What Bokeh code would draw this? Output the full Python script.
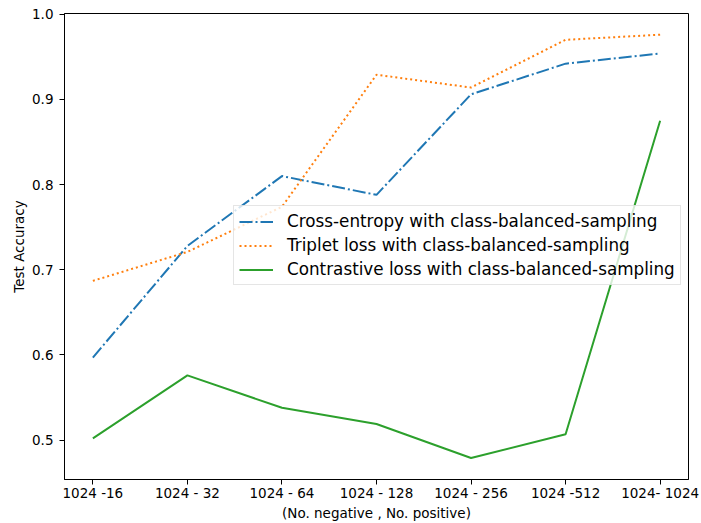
from bokeh.plotting import figure
from bokeh.models import Legend, LegendItem, FixedTicker, Range1d, PrintfTickFormatter
from bokeh.embed import file_html
from bokeh.resources import INLINE

# (No. negative, No. positive) sample pairs
pairs = ["1024 -16", "1024 - 32", "1024 - 64", "1024 - 128",
         "1024 - 256", "1024 -512", "1024- 1024"]

# Test accuracy per training setting
cross_entropy = [0.597, 0.728, 0.810, 0.788, 0.906, 0.942, 0.954]
triplet = [0.687, 0.721, 0.774, 0.929, 0.914, 0.970, 0.976]
contrastive = [0.502, 0.576, 0.538, 0.519, 0.479, 0.507, 0.875]

y_ticks = [0.5, 0.6, 0.7, 0.8, 0.9, 1.0]

x = list(range(len(pairs)))
FONT = "DejaVu Sans"

p = figure(width=701, height=523, output_backend="svg", toolbar_location=None,
           x_range=Range1d(-0.3, 6.3), y_range=Range1d(0.4538, 1.0009),
           min_border_left=64, min_border_right=13, min_border_top=13,
           min_border_bottom=44)
p.background_fill_color = "white"
p.border_fill_color = "white"
p.outline_line_color = "black"
p.outline_line_width = 1
p.xgrid.visible = False
p.ygrid.visible = False

r_ce = p.line(x, cross_entropy, color="#1f77b4", line_width=2, line_dash="13 3 2 3")
r_tr = p.line(x, triplet, color="#ff7f0e", line_width=2, line_dash="2 3")
r_co = p.line(x, contrastive, color="#2ca02c", line_width=2)

for ax in (p.xaxis[0], p.yaxis[0]):
    ax.axis_line_color = "black"
    ax.major_tick_line_color = "black"
    ax.major_tick_out = 5
    ax.major_tick_in = 0
    ax.minor_tick_line_color = None
    ax.major_label_text_font = FONT
    ax.major_label_text_font_size = "13.5px"
    ax.major_label_text_color = "black"
    ax.axis_label_text_font = FONT
    ax.axis_label_text_font_size = "13.5px"
    ax.axis_label_text_font_style = "normal"
    ax.axis_label_text_color = "black"

p.xaxis.ticker = FixedTicker(ticks=x)
p.xaxis.major_label_overrides = {i: s for i, s in enumerate(pairs)}
p.xaxis.major_label_standoff = 0
p.xaxis.axis_label = "(No. negative , No. positive)"
p.xaxis.axis_label_standoff = 1

p.yaxis.ticker = FixedTicker(ticks=y_ticks)
p.yaxis.formatter = PrintfTickFormatter(format="%.1f")
p.yaxis.major_label_standoff = 6
p.yaxis.axis_label = "Test Accuracy"
p.yaxis.axis_label_standoff = 2

legend = Legend(items=[
    LegendItem(label="Cross-entropy with class-balanced-sampling", renderers=[r_ce]),
    LegendItem(label="Triplet loss with class-balanced-sampling", renderers=[r_tr]),
    LegendItem(label="Contrastive loss with class-balanced-sampling", renderers=[r_co]),
], location=(169, 194))
legend.label_text_font = FONT
legend.label_text_font_size = "16.8px"
legend.label_text_color = "black"
legend.glyph_width = 34
legend.glyph_height = 19
legend.label_height = 19
legend.label_standoff = 14
legend.spacing = 4
legend.padding = 5
legend.margin = 0
legend.border_line_color = "#cccccc"
legend.border_line_width = 1
legend.background_fill_color = "white"
legend.background_fill_alpha = 0.8
p.add_layout(legend)

open("out.html", "w").write(file_html(p, INLINE))
